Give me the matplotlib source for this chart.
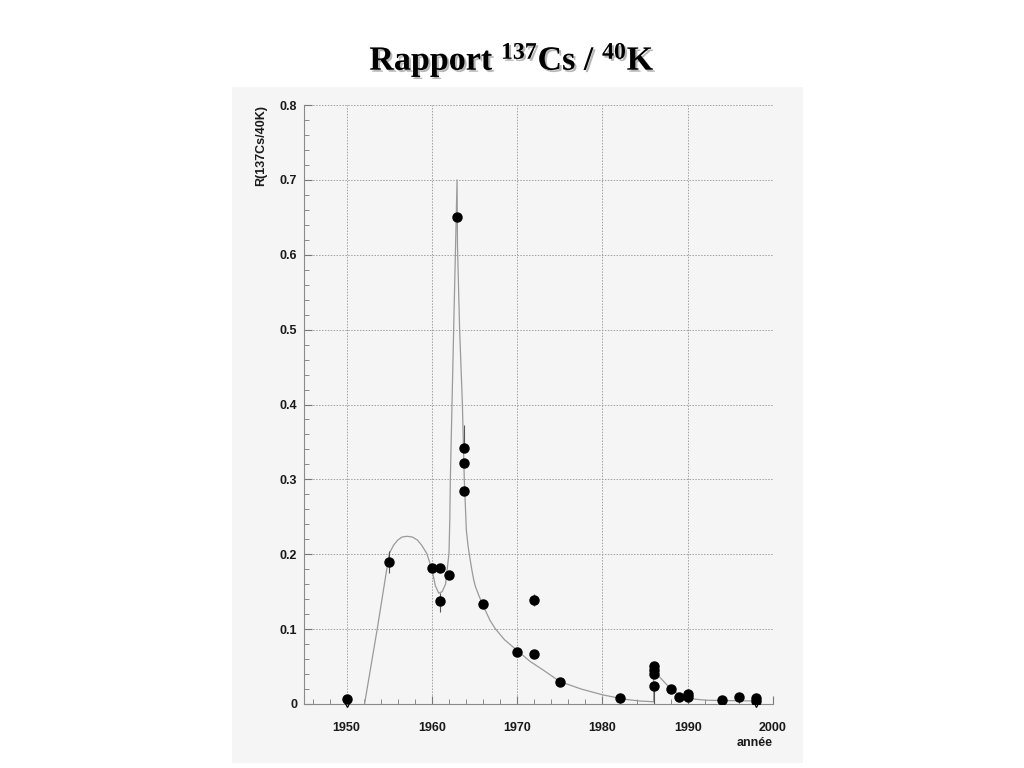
import matplotlib
matplotlib.use('Agg')
import matplotlib.pyplot as plt
import matplotlib.patheffects as pe
from matplotlib.patches import Rectangle
from matplotlib.ticker import MultipleLocator, FuncFormatter

plt.rcParams['font.family'] = ['Liberation Sans', 'DejaVu Sans']
plt.rcParams['mathtext.fontset'] = 'custom'
plt.rcParams['mathtext.rm'] = 'Liberation Serif:bold'
plt.rcParams['mathtext.it'] = 'Liberation Serif:bold'
plt.rcParams['mathtext.bf'] = 'Liberation Serif:bold'

# mesures (année, rapport 137Cs/40K)
annee = [1950, 1955, 1960, 1961, 1961, 1962, 1963, 1963.8, 1963.8, 1963.8,
         1966, 1970, 1972, 1972, 1975, 1982, 1986, 1986, 1986, 1986,
         1988, 1989, 1990, 1990, 1994, 1996, 1998, 1998]
rapport = [0.007, 0.190, 0.182, 0.182, 0.138, 0.172, 0.650, 0.342, 0.322, 0.284,
           0.134, 0.069, 0.139, 0.067, 0.030, 0.008, 0.051, 0.045, 0.040, 0.024,
           0.020, 0.009, 0.013, 0.009, 0.006, 0.009, 0.008, 0.004]
err_haut = [0, 0.015, 0, 0, 0.010, 0, 0, 0.030, 0, 0,
            0, 0, 0.008, 0, 0, 0, 0, 0, 0, 0,
            0, 0, 0, 0, 0, 0, 0, 0]
err_bas = [0, 0.015, 0, 0, 0.015, 0, 0, 0, 0, 0,
           0, 0, 0.008, 0, 0, 0, 0, 0, 0, 0.024,
           0, 0, 0, 0, 0, 0, 0, 0]

# limites superieures
annee_lim = [1950, 1998]
rapport_lim = [0.0, 0.0]

# courbe du modele
modele_annee = [1952.1, 1953.6, 1955.0, 1955.5, 1956.0, 1956.5, 1957.1, 1957.7, 1958.3,
                1958.8, 1959.4, 1960.0, 1960.4, 1960.8, 1961.2, 1961.6, 1962.0, 1962.1,
                1962.16, 1962.55, 1962.95, 1963.0, 1963.25, 1963.57, 1963.8, 1964.04,
                1964.25, 1964.5, 1964.7, 1964.9, 1965.1, 1965.5, 1965.9, 1966.8, 1967.4,
                1968.5, 1970.15, 1971.5, 1973.1, 1975.0, 1977.5, 1980.1, 1982.8, 1984.4,
                1986.0, 1986.0, 1986.7, 1988.1, 1989.4, 1990.6, 1992.2, 1995, 1998]
modele_val = [0.0, 0.101, 0.201, 0.212, 0.219, 0.223, 0.224, 0.223, 0.219,
              0.212, 0.201, 0.180, 0.158, 0.148, 0.150, 0.160, 0.201, 0.246,
              0.299, 0.5, 0.70, 0.611, 0.5, 0.402, 0.299, 0.232,
              0.210, 0.192, 0.178, 0.166, 0.157, 0.145, 0.134, 0.112, 0.101,
              0.086, 0.070, 0.057, 0.045, 0.030, 0.020, 0.012, 0.006, 0.004,
              0.003, 0.052, 0.036, 0.019, 0.010, 0.0067, 0.005, 0.0045, 0.004]

fig = plt.figure(figsize=(10.24, 7.68), dpi=100)
fig.patch.set_facecolor('white')

# fond gris du cadre
fig.patches.append(Rectangle((232 / 1024, 1 - 763 / 768), (803 - 232) / 1024, (763 - 87) / 768,
                             transform=fig.transFigure, facecolor='#f5f5f5',
                             edgecolor='none', zorder=-5))

ax = fig.add_axes([304 / 1024, 1 - 704 / 768, (773 - 304) / 1024, (704 - 105) / 768])
ax.set_zorder(2)
ax.set_facecolor('#f5f5f5')

ax.plot(modele_annee, modele_val, color='#9a9a9a', lw=0.9, zorder=2)
ax.errorbar(annee, rapport, yerr=[err_bas, err_haut], fmt='o', color='black',
            ms=6.5, ecolor='#555555', elinewidth=0.8, capsize=0, zorder=3)
ax.plot(annee_lim, rapport_lim, linestyle='none', marker='v', ms=5,
        markerfacecolor='white', markeredgecolor='black', markeredgewidth=0.9, zorder=3,
        clip_on=False)

ax.set_xlim(1945, 2000)
ax.set_ylim(0, 0.8)
ax.xaxis.set_major_locator(MultipleLocator(10))
ax.xaxis.set_minor_locator(MultipleLocator(2))
ax.yaxis.set_major_locator(MultipleLocator(0.1))
ax.yaxis.set_minor_locator(MultipleLocator(0.02))
ax.yaxis.set_major_formatter(FuncFormatter(lambda v, p: '0' if abs(v) < 1e-9 else '%.1f' % v))

ax.grid(True, which='major', color='#a0a0a0', linestyle=(0, (1.5, 1.5)), lw=0.7)
ax.tick_params(which='both', direction='in', colors='#777777', labelcolor='#1a1a1a',
               labelsize=9)
ax.tick_params(which='major', length=6)
ax.tick_params(which='minor', length=3.5)
ax.tick_params(axis='x', pad=13)
ax.tick_params(axis='y', pad=5)
for lab in ax.get_xticklabels() + ax.get_yticklabels():
    lab.set_fontweight('bold')
for s in ax.spines.values():
    s.set_color('#8a8a8a')
    s.set_linewidth(0.8)
ax.spines['top'].set_visible(False)
ax.spines['right'].set_visible(False)

ax.set_ylabel('R(137Cs/40K)', fontsize=9, fontweight='bold', color='#1a1a1a', loc='top')
ax.yaxis.set_label_coords(-0.078, 1.0)
ax.set_xlabel('année', fontsize=9, fontweight='bold', color='#1a1a1a', loc='right')
ax.xaxis.set_label_coords(1.0, -0.055)

fig.text(0.5, 1 - 60 / 768, r'Rapport $^{137}$Cs / $^{40}$K', ha='center', va='center',
         family='Liberation Serif', fontweight='bold', fontsize=24.5,
         path_effects=[pe.withSimplePatchShadow(offset=(1.5, -1.5), shadow_rgbFace='#888888', alpha=0.6)])

fig.savefig('out.png', dpi=100)
